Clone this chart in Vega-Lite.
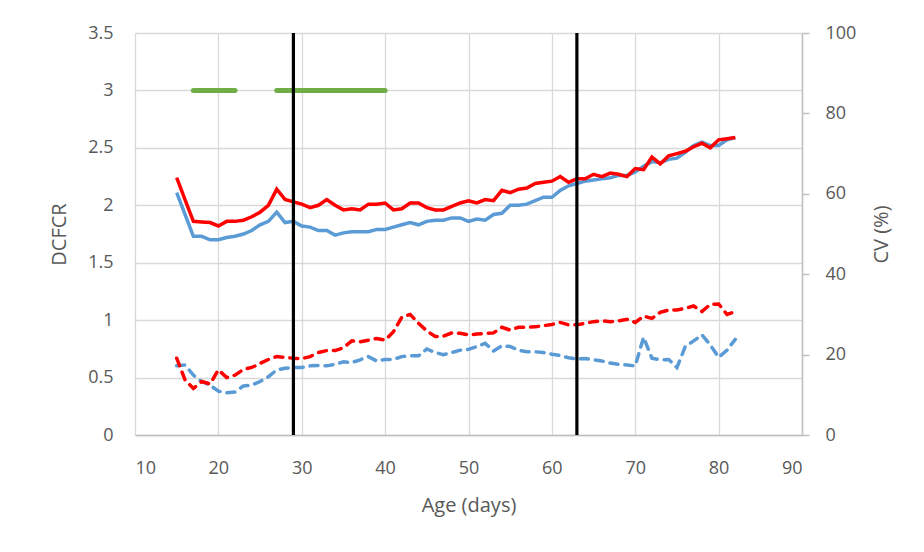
{
  "$schema": "https://vega.github.io/schema/vega-lite/v6.json",
  "width": 667,
  "height": 402,
  "autosize": "none",
  "padding": {"left": 135, "top": 33, "right": 122, "bottom": 117},
  "background": "white",
  "config": {
    "view": {"stroke": null},
    "font": "Open Sans",
    "axis": {
      "labelFont": "Open Sans",
      "titleFont": "Open Sans",
      "labelFontSize": 18,
      "titleFontSize": 20,
      "labelColor": "#595959",
      "titleColor": "#595959",
      "titleFontWeight": "normal",
      "gridColor": "#D9D9D9",
      "gridWidth": 1.3,
      "domainColor": "#BFBFBF",
      "domainWidth": 1.5,
      "tickColor": "#BFBFBF",
      "tickWidth": 1.5
    }
  },
  "datasets": {
    "series": [
      {"age": 15, "dcfcr1": 2.24, "dcfcr2": 2.11, "cv1": 19.1, "cv2": 17.2},
      {"age": 16, "dcfcr1": 2.05, "dcfcr2": 1.92, "cv1": 13.7, "cv2": 17.4},
      {"age": 17, "dcfcr1": 1.86, "dcfcr2": 1.73, "cv1": 11.6, "cv2": 14.9},
      {"age": 18, "dcfcr1": 1.855, "dcfcr2": 1.73, "cv1": 13.3, "cv2": 13.3},
      {"age": 19, "dcfcr1": 1.85, "dcfcr2": 1.70, "cv1": 12.7, "cv2": 12.4},
      {"age": 20, "dcfcr1": 1.82, "dcfcr2": 1.70, "cv1": 16.2, "cv2": 10.9},
      {"age": 21, "dcfcr1": 1.86, "dcfcr2": 1.72, "cv1": 14.3, "cv2": 10.5},
      {"age": 22, "dcfcr1": 1.86, "dcfcr2": 1.73, "cv1": 14.9, "cv2": 10.7},
      {"age": 23, "dcfcr1": 1.87, "dcfcr2": 1.75, "cv1": 16.3, "cv2": 12.2},
      {"age": 24, "dcfcr1": 1.90, "dcfcr2": 1.78, "cv1": 16.8, "cv2": 12.4},
      {"age": 25, "dcfcr1": 1.94, "dcfcr2": 1.83, "cv1": 17.8, "cv2": 13.3},
      {"age": 26, "dcfcr1": 2.00, "dcfcr2": 1.86, "cv1": 18.8, "cv2": 14.5},
      {"age": 27, "dcfcr1": 2.14, "dcfcr2": 1.94, "cv1": 19.5, "cv2": 16.2},
      {"age": 28, "dcfcr1": 2.05, "dcfcr2": 1.85, "cv1": 19.3, "cv2": 16.6},
      {"age": 29, "dcfcr1": 2.03, "dcfcr2": 1.86, "cv1": 19.1, "cv2": 16.8},
      {"age": 30, "dcfcr1": 2.01, "dcfcr2": 1.82, "cv1": 19.0, "cv2": 16.8},
      {"age": 31, "dcfcr1": 1.98, "dcfcr2": 1.81, "cv1": 19.5, "cv2": 17.2},
      {"age": 32, "dcfcr1": 2.00, "dcfcr2": 1.78, "cv1": 20.5, "cv2": 17.3},
      {"age": 33, "dcfcr1": 2.05, "dcfcr2": 1.78, "cv1": 21.0, "cv2": 17.2},
      {"age": 34, "dcfcr1": 2.00, "dcfcr2": 1.74, "cv1": 21.0, "cv2": 17.6},
      {"age": 35, "dcfcr1": 1.96, "dcfcr2": 1.76, "cv1": 21.7, "cv2": 18.2},
      {"age": 36, "dcfcr1": 1.97, "dcfcr2": 1.77, "cv1": 23.4, "cv2": 18.0},
      {"age": 37, "dcfcr1": 1.96, "dcfcr2": 1.77, "cv1": 23.2, "cv2": 18.7},
      {"age": 38, "dcfcr1": 2.01, "dcfcr2": 1.77, "cv1": 23.6, "cv2": 19.5},
      {"age": 39, "dcfcr1": 2.01, "dcfcr2": 1.79, "cv1": 24.0, "cv2": 18.4},
      {"age": 40, "dcfcr1": 2.02, "dcfcr2": 1.79, "cv1": 23.6, "cv2": 18.8},
      {"age": 41, "dcfcr1": 1.96, "dcfcr2": 1.81, "cv1": 25.7, "cv2": 18.8},
      {"age": 42, "dcfcr1": 1.97, "dcfcr2": 1.83, "cv1": 29.3, "cv2": 19.5},
      {"age": 43, "dcfcr1": 2.02, "dcfcr2": 1.85, "cv1": 30.0, "cv2": 19.7},
      {"age": 44, "dcfcr1": 2.02, "dcfcr2": 1.83, "cv1": 27.8, "cv2": 19.7},
      {"age": 45, "dcfcr1": 1.98, "dcfcr2": 1.86, "cv1": 25.9, "cv2": 21.4},
      {"age": 46, "dcfcr1": 1.96, "dcfcr2": 1.87, "cv1": 24.5, "cv2": 20.5},
      {"age": 47, "dcfcr1": 1.96, "dcfcr2": 1.87, "cv1": 24.6, "cv2": 20.0},
      {"age": 48, "dcfcr1": 1.99, "dcfcr2": 1.89, "cv1": 25.4, "cv2": 20.5},
      {"age": 49, "dcfcr1": 2.02, "dcfcr2": 1.89, "cv1": 25.3, "cv2": 21.1},
      {"age": 50, "dcfcr1": 2.04, "dcfcr2": 1.86, "cv1": 24.9, "cv2": 21.3},
      {"age": 51, "dcfcr1": 2.02, "dcfcr2": 1.88, "cv1": 25.1, "cv2": 22.0},
      {"age": 52, "dcfcr1": 2.05, "dcfcr2": 1.87, "cv1": 25.3, "cv2": 22.8},
      {"age": 53, "dcfcr1": 2.04, "dcfcr2": 1.92, "cv1": 25.4, "cv2": 20.9},
      {"age": 54, "dcfcr1": 2.13, "dcfcr2": 1.93, "cv1": 26.8, "cv2": 22.2},
      {"age": 55, "dcfcr1": 2.11, "dcfcr2": 2.00, "cv1": 26.1, "cv2": 22.0},
      {"age": 56, "dcfcr1": 2.14, "dcfcr2": 2.00, "cv1": 26.8, "cv2": 21.1},
      {"age": 57, "dcfcr1": 2.15, "dcfcr2": 2.01, "cv1": 26.8, "cv2": 20.7},
      {"age": 58, "dcfcr1": 2.19, "dcfcr2": 2.04, "cv1": 26.9, "cv2": 20.7},
      {"age": 59, "dcfcr1": 2.20, "dcfcr2": 2.07, "cv1": 27.2, "cv2": 20.5},
      {"age": 60, "dcfcr1": 2.21, "dcfcr2": 2.07, "cv1": 27.5, "cv2": 20.1},
      {"age": 61, "dcfcr1": 2.25, "dcfcr2": 2.13, "cv1": 28.0, "cv2": 19.8},
      {"age": 62, "dcfcr1": 2.20, "dcfcr2": 2.17, "cv1": 27.4, "cv2": 19.2},
      {"age": 63, "dcfcr1": 2.23, "dcfcr2": 2.19, "cv1": 27.4, "cv2": 18.9},
      {"age": 64, "dcfcr1": 2.23, "dcfcr2": 2.21, "cv1": 27.8, "cv2": 19.0},
      {"age": 65, "dcfcr1": 2.27, "dcfcr2": 2.22, "cv1": 28.2, "cv2": 18.7},
      {"age": 66, "dcfcr1": 2.25, "dcfcr2": 2.23, "cv1": 28.4, "cv2": 18.4},
      {"age": 67, "dcfcr1": 2.28, "dcfcr2": 2.24, "cv1": 28.2, "cv2": 17.9},
      {"age": 68, "dcfcr1": 2.27, "dcfcr2": 2.26, "cv1": 28.4, "cv2": 17.6},
      {"age": 69, "dcfcr1": 2.25, "dcfcr2": 2.26, "cv1": 28.8, "cv2": 17.4},
      {"age": 70, "dcfcr1": 2.32, "dcfcr2": 2.29, "cv1": 28.0, "cv2": 17.2},
      {"age": 71, "dcfcr1": 2.31, "dcfcr2": 2.34, "cv1": 29.6, "cv2": 24.3},
      {"age": 72, "dcfcr1": 2.42, "dcfcr2": 2.38, "cv1": 29.0, "cv2": 19.1},
      {"age": 73, "dcfcr1": 2.36, "dcfcr2": 2.37, "cv1": 30.5, "cv2": 18.7},
      {"age": 74, "dcfcr1": 2.43, "dcfcr2": 2.40, "cv1": 31.1, "cv2": 18.8},
      {"age": 75, "dcfcr1": 2.45, "dcfcr2": 2.41, "cv1": 31.1, "cv2": 16.8},
      {"age": 76, "dcfcr1": 2.47, "dcfcr2": 2.46, "cv1": 31.5, "cv2": 22.0},
      {"age": 77, "dcfcr1": 2.51, "dcfcr2": 2.52, "cv1": 32.1, "cv2": 23.4},
      {"age": 78, "dcfcr1": 2.54, "dcfcr2": 2.55, "cv1": 30.7, "cv2": 24.9},
      {"age": 79, "dcfcr1": 2.50, "dcfcr2": 2.52, "cv1": 32.5, "cv2": 22.4},
      {"age": 80, "dcfcr1": 2.57, "dcfcr2": 2.52, "cv1": 32.6, "cv2": 19.3},
      {"age": 81, "dcfcr1": 2.58, "dcfcr2": 2.57, "cv1": 30.0, "cv2": 21.1},
      {"age": 82, "dcfcr1": 2.59, "dcfcr2": 2.59, "cv1": 30.7, "cv2": 23.8}
    ],
    "periods": [
      {"start": 17, "end": 22, "level": 3},
      {"start": 27, "end": 40, "level": 3}
    ],
    "markers": [
      {"age": 29},
      {"age": 63}
    ]
  },
  "encoding": {
    "x": {
      "field": "age",
      "type": "quantitative",
      "scale": {"domain": [10, 90], "nice": false},
      "axis": {
        "title": "Age (days)",
        "values": [10, 20, 30, 40, 50, 60, 70, 80, 90],
        "format": "d",
        "ticks": false,
        "labelPadding": 24,
        "titlePadding": 18,
        "grid": true
      }
    }
  },
  "layer": [
    {
      "data": {"name": "series"},
      "transform": [{"fold": ["cv2", "cv1"], "as": ["series", "cv"]}],
      "mark": {"type": "line", "strokeWidth": 3.5, "strokeDash": [8, 7], "strokeCap": "round"},
      "encoding": {
        "y": {
          "field": "cv",
          "type": "quantitative",
          "scale": {"domain": [0, 100], "nice": false},
          "axis": {
            "orient": "right",
            "title": "CV (%)",
            "titleAngle": 270,
            "titleBaseline": "top",
            "values": [0, 20, 40, 60, 80, 100],
            "format": "d",
            "grid": false,
            "ticks": true,
            "tickSize": 7,
            "labelPadding": 16,
            "titlePadding": 16
          }
        },
        "color": {
          "field": "series",
          "type": "nominal",
          "scale": {"domain": ["cv1", "cv2"], "range": ["#FF0000", "#5B9BD5"]},
          "legend": null
        }
      }
    },
    {
      "layer": [
        {
          "data": {"name": "series"},
          "transform": [{"fold": ["dcfcr2", "dcfcr1"], "as": ["series", "dcfcr"]}],
          "mark": {"type": "line", "strokeWidth": 3.5},
          "encoding": {
            "y": {
              "field": "dcfcr",
              "type": "quantitative",
              "scale": {"domain": [0, 3.5], "nice": false},
              "axis": {
                "orient": "left",
                "title": "DCFCR",
                "values": [0, 0.5, 1, 1.5, 2, 2.5, 3, 3.5],
                "format": "~g",
                "grid": true,
                "domain": false,
                "ticks": false,
                "labelPadding": 22,
                "titlePadding": 18
              }
            },
            "color": {
              "field": "series",
              "type": "nominal",
              "scale": {"domain": ["dcfcr1", "dcfcr2"], "range": ["#FF0000", "#5B9BD5"]},
              "legend": null
            }
          }
        },
        {
          "data": {"name": "periods"},
          "mark": {"type": "rule", "strokeWidth": 5, "strokeCap": "round", "color": "#70AD47"},
          "encoding": {
            "x": {"field": "start", "type": "quantitative"},
            "x2": {"field": "end"},
            "y": {"field": "level", "type": "quantitative"}
          }
        },
        {
          "data": {"name": "markers"},
          "mark": {"type": "rule", "strokeWidth": 3.2, "color": "#000000"},
          "encoding": {
            "x": {"field": "age", "type": "quantitative"}
          }
        }
      ]
    }
  ],
  "resolve": {"scale": {"y": "independent", "color": "independent"}}
}
